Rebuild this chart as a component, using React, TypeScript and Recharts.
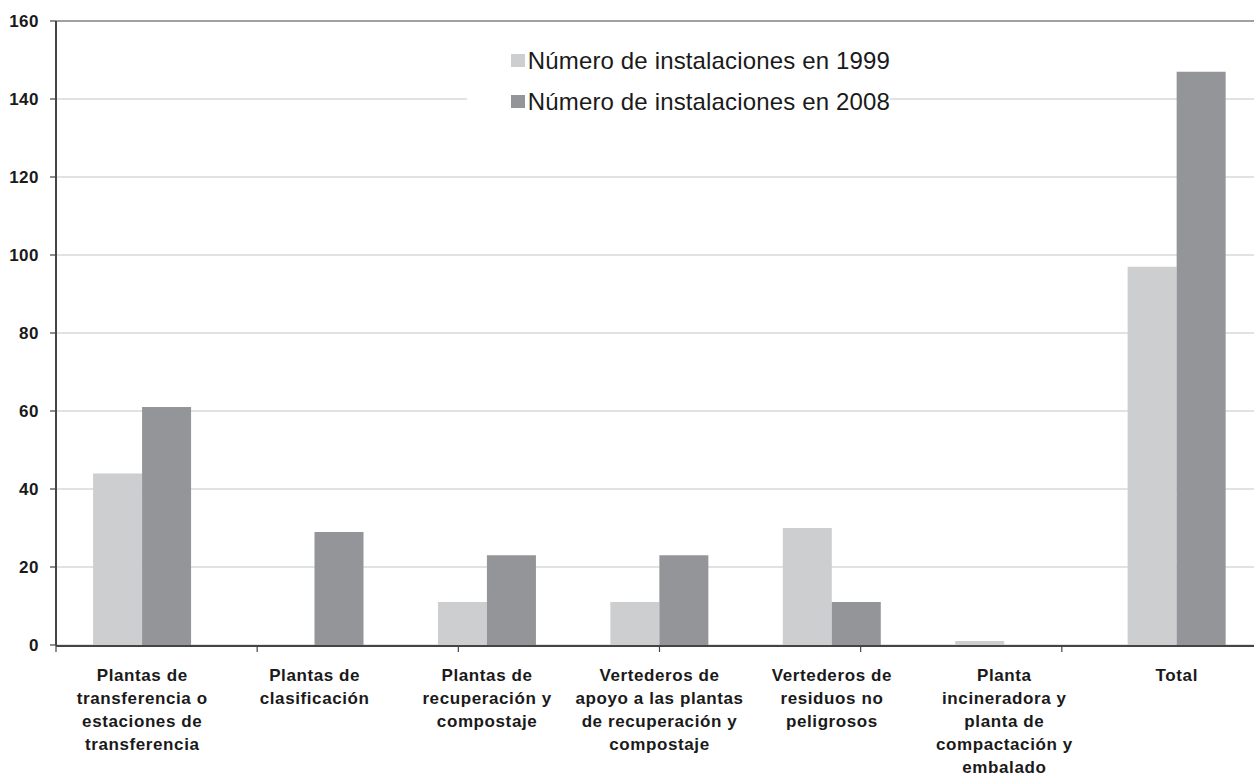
import React from 'react';
import {
  BarChart,
  Bar,
  XAxis,
  YAxis,
  CartesianGrid,
  Legend,
  ReferenceLine,
} from 'recharts';

// categorías (saltos de línea tal como aparecen en el eje)
const categorias = [
  'Plantas de\ntransferencia o\nestaciones de\ntransferencia',
  'Plantas de\nclasificación',
  'Plantas de\nrecuperación y\ncompostaje',
  'Vertederos de\napoyo a las plantas\nde recuperación y\ncompostaje',
  'Vertederos de\nresiduos no\npeligrosos',
  'Planta\nincineradora y\nplanta de\ncompactación y\nembalado',
  'Total',
];

const instalaciones1999 = [44, 0, 11, 11, 30, 1, 97];
const instalaciones2008 = [61, 29, 23, 23, 11, 0, 147];

const yTicks = [0, 20, 40, 60, 80, 100, 120, 140, 160];
const limites = [0, 1, 2, 3, 4, 5, 6, 7];

const series = [
  { key: 'v1999', name: 'Número de instalaciones en 1999', color: '#cdced0' },
  { key: 'v2008', name: 'Número de instalaciones en 2008', color: '#949598' },
];

const data = categorias.map((c, i) => ({
  cat: c,
  v1999: instalaciones1999[i],
  v2008: instalaciones2008[i],
}));

const FONT = 'Arial, "Liberation Sans", sans-serif';

const CategoryTick = (props: any) => {
  const { x, y, payload } = props;
  const lines = String(payload.value).split('\n');
  return (
    <g transform={`translate(${x},${y})`}>
      <text
        textAnchor="middle"
        fontFamily={FONT}
        fontSize={17}
        fontWeight="bold"
        letterSpacing={0.6}
        fill="#1a1a1a"
      >
        {lines.map((l: string, i: number) => (
          <tspan key={i} x={0} y={27 + i * 23}>
            {l}
          </tspan>
        ))}
      </text>
    </g>
  );
};

const LegendBox = () => (
  <div style={{ background: '#fff', fontFamily: FONT, fontSize: 24, letterSpacing: 0.15, color: '#1a1a1a' }}>
    {series.map((s) => (
      <div key={s.key} style={{ height: 41, display: 'flex', alignItems: 'center', paddingLeft: 44 }}>
        <span style={{ width: 14, height: 13, background: s.color, marginRight: 3, display: 'inline-block' }} />
        <span style={{ whiteSpace: 'nowrap' }}>{s.name}</span>
      </div>
    ))}
  </div>
);

export default function App() {
  return (
    <div style={{ position: 'absolute', left: 0, top: 0, width: 1254, height: 780, overflow: 'hidden', background: '#fff' }}>
      <BarChart
        width={1270}
        height={780}
        data={data}
        margin={{ top: 21, right: 7, left: 0, bottom: 5 }}
        barCategoryGap="21.5%"
        barGap={0}
      >
        <CartesianGrid horizontal vertical={false} stroke="#d9d9d9" strokeWidth={1.5} />
        <ReferenceLine y={160} stroke="#8a8a8a" strokeWidth={1.5} />
        {/* marcas entre categorías */}
        <XAxis
          xAxisId="a"
          type="number"
          domain={[0, 7]}
          ticks={limites}
          height={1}
          axisLine={false}
          tickLine={{ stroke: '#444', strokeWidth: 1.2 }}
          tickSize={7}
          tickFormatter={() => ''}
        />
        <XAxis
          xAxisId="b"
          dataKey="cat"
          type="category"
          height={129}
          interval={0}
          tickLine={false}
          axisLine={{ stroke: '#444', strokeWidth: 2 }}
          tick={<CategoryTick />}
        />
        <YAxis
          domain={[0, 160]}
          ticks={yTicks}
          width={56}
          tickSize={6}
          tickMargin={11}
          axisLine={{ stroke: '#444', strokeWidth: 2 }}
          tickLine={{ stroke: '#444', strokeWidth: 1.2 }}
          tick={{ fontFamily: FONT, fontSize: 17, fontWeight: 'bold', letterSpacing: 0.5, fill: '#1a1a1a' }}
        />
        <Legend
          layout="vertical"
          align="center"
          verticalAlign="middle"
          content={<LegendBox />}
          wrapperStyle={{ left: 467, top: 40, width: 423, height: 82 }}
        />
        {series.map((s) => (
          <Bar
            key={s.key}
            xAxisId="b"
            dataKey={s.key}
            name={s.name}
            fill={s.color}
            isAnimationActive={false}
          />
        ))}
      </BarChart>
    </div>
  );
}
